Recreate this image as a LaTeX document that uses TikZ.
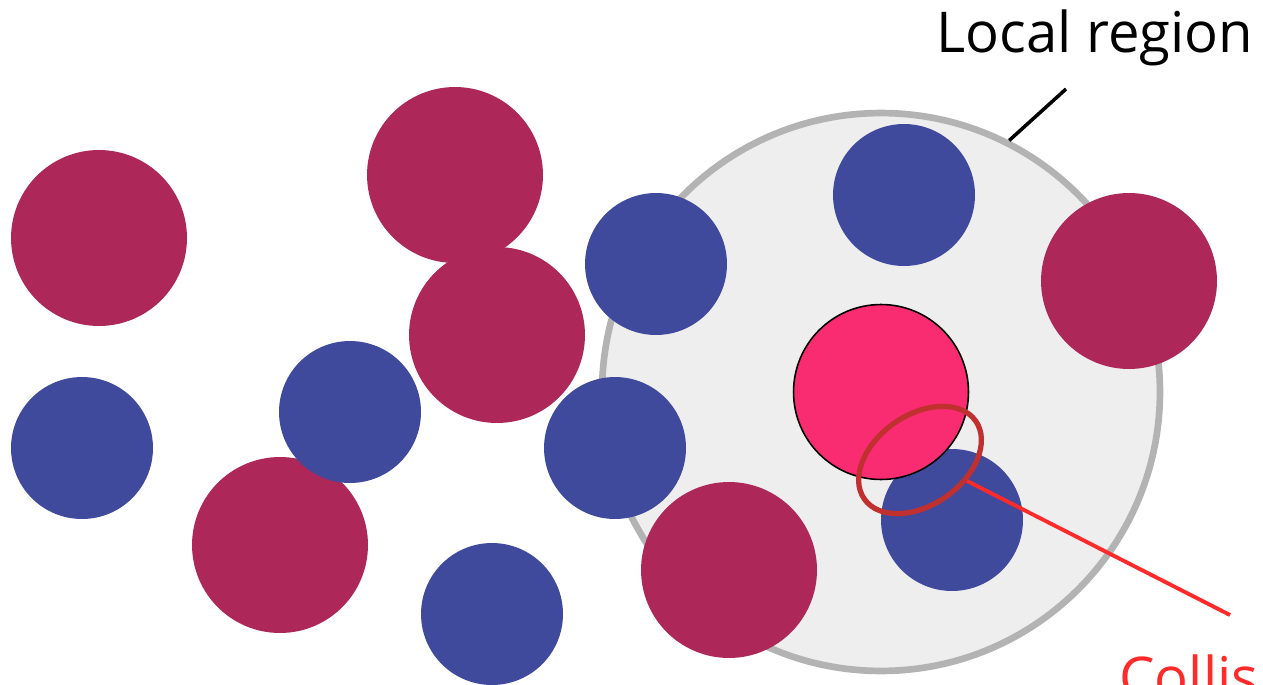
\documentclass[tikz,border=0pt]{standalone}
\usepackage{xcolor}
\usepackage{tikz}
\usepackage{fontspec}
\setmainfont{Open Sans}
\usetikzlibrary{shapes.geometric}
\definecolor{dotmaroon}{RGB}{173, 40, 89}
\definecolor{dotblue}{RGB}{63, 74, 156}
\definecolor{dotpink}{RGB}{249, 44, 114}
\definecolor{hitred}{RGB}{192, 48, 47}
\definecolor{leadred}{RGB}{255, 42, 42}
\definecolor{regiongray}{RGB}{179, 179, 179}
\definecolor{regionfill}{RGB}{238, 238, 238}
\tikzset{
    bigdot/.style={circle, fill=dotmaroon, minimum size=3.52cm, inner sep=0pt},
    smalldot/.style={circle, fill=dotblue, minimum size=2.84cm, inner sep=0pt},
    tag/.style={anchor=base west, inner sep=0pt, font=\fontsize{32}{38}\selectfont}
}

\begin{document}
\begin{tikzpicture}[x=0.02cm, y=0.02cm]
    \useasboundingbox (0,0) rectangle (1263,684);

    % Local region around the probe particle
    \node[circle, draw=regiongray, fill=regionfill, line width=3.8pt, minimum size=11.16cm, inner sep=0pt] (region) at (881,292) {};

    % Large particles
    \node[bigdot] (m1) at (99,446) {};
    \node[bigdot] (m2) at (455,509) {};
    \node[bigdot] (m3) at (497,349) {};
    \node[bigdot] (m4) at (280,139) {};
    \node[bigdot] (m5) at (729,114) {};
    \node[bigdot] (m6) at (1129,403) {};

    % Small particles
    \node[smalldot] (b1) at (82,236) {};
    \node[smalldot] (b2) at (350,272) {};
    \node[smalldot] (b3) at (492,70) {};
    \node[smalldot] (b4) at (656,420) {};
    \node[smalldot] (b5) at (615,236) {};
    \node[smalldot] (b6) at (904,489) {};
    \node[smalldot] (b7) at (952,164) {};

    % Probe particle in the centre
    \node[circle, fill=dotpink, draw=black, line width=0.9pt, minimum size=3.5cm, inner sep=0pt] (probe) at (881,292) {};

    % Overlap marker
    \node[ellipse, draw=hitred, line width=3pt, minimum width=2.72cm, minimum height=1.8cm, inner sep=0pt, rotate=35] (hit) at (920,224) {};

    % Labels
    \node[tag] (regionlabel) at (936,631) {Local region};
    \coordinate (regiontip) at (1066,595);
    \draw[line width=2pt] (regiontip) -- (region.63);

    \node[tag, text=leadred] (hitlabel) at (1119,-13) {Collis};
    \coordinate (hittip) at (1230,69);
    \draw[leadred, line width=2.2pt] (hit.-59) -- (hittip);
\end{tikzpicture}
\end{document}
